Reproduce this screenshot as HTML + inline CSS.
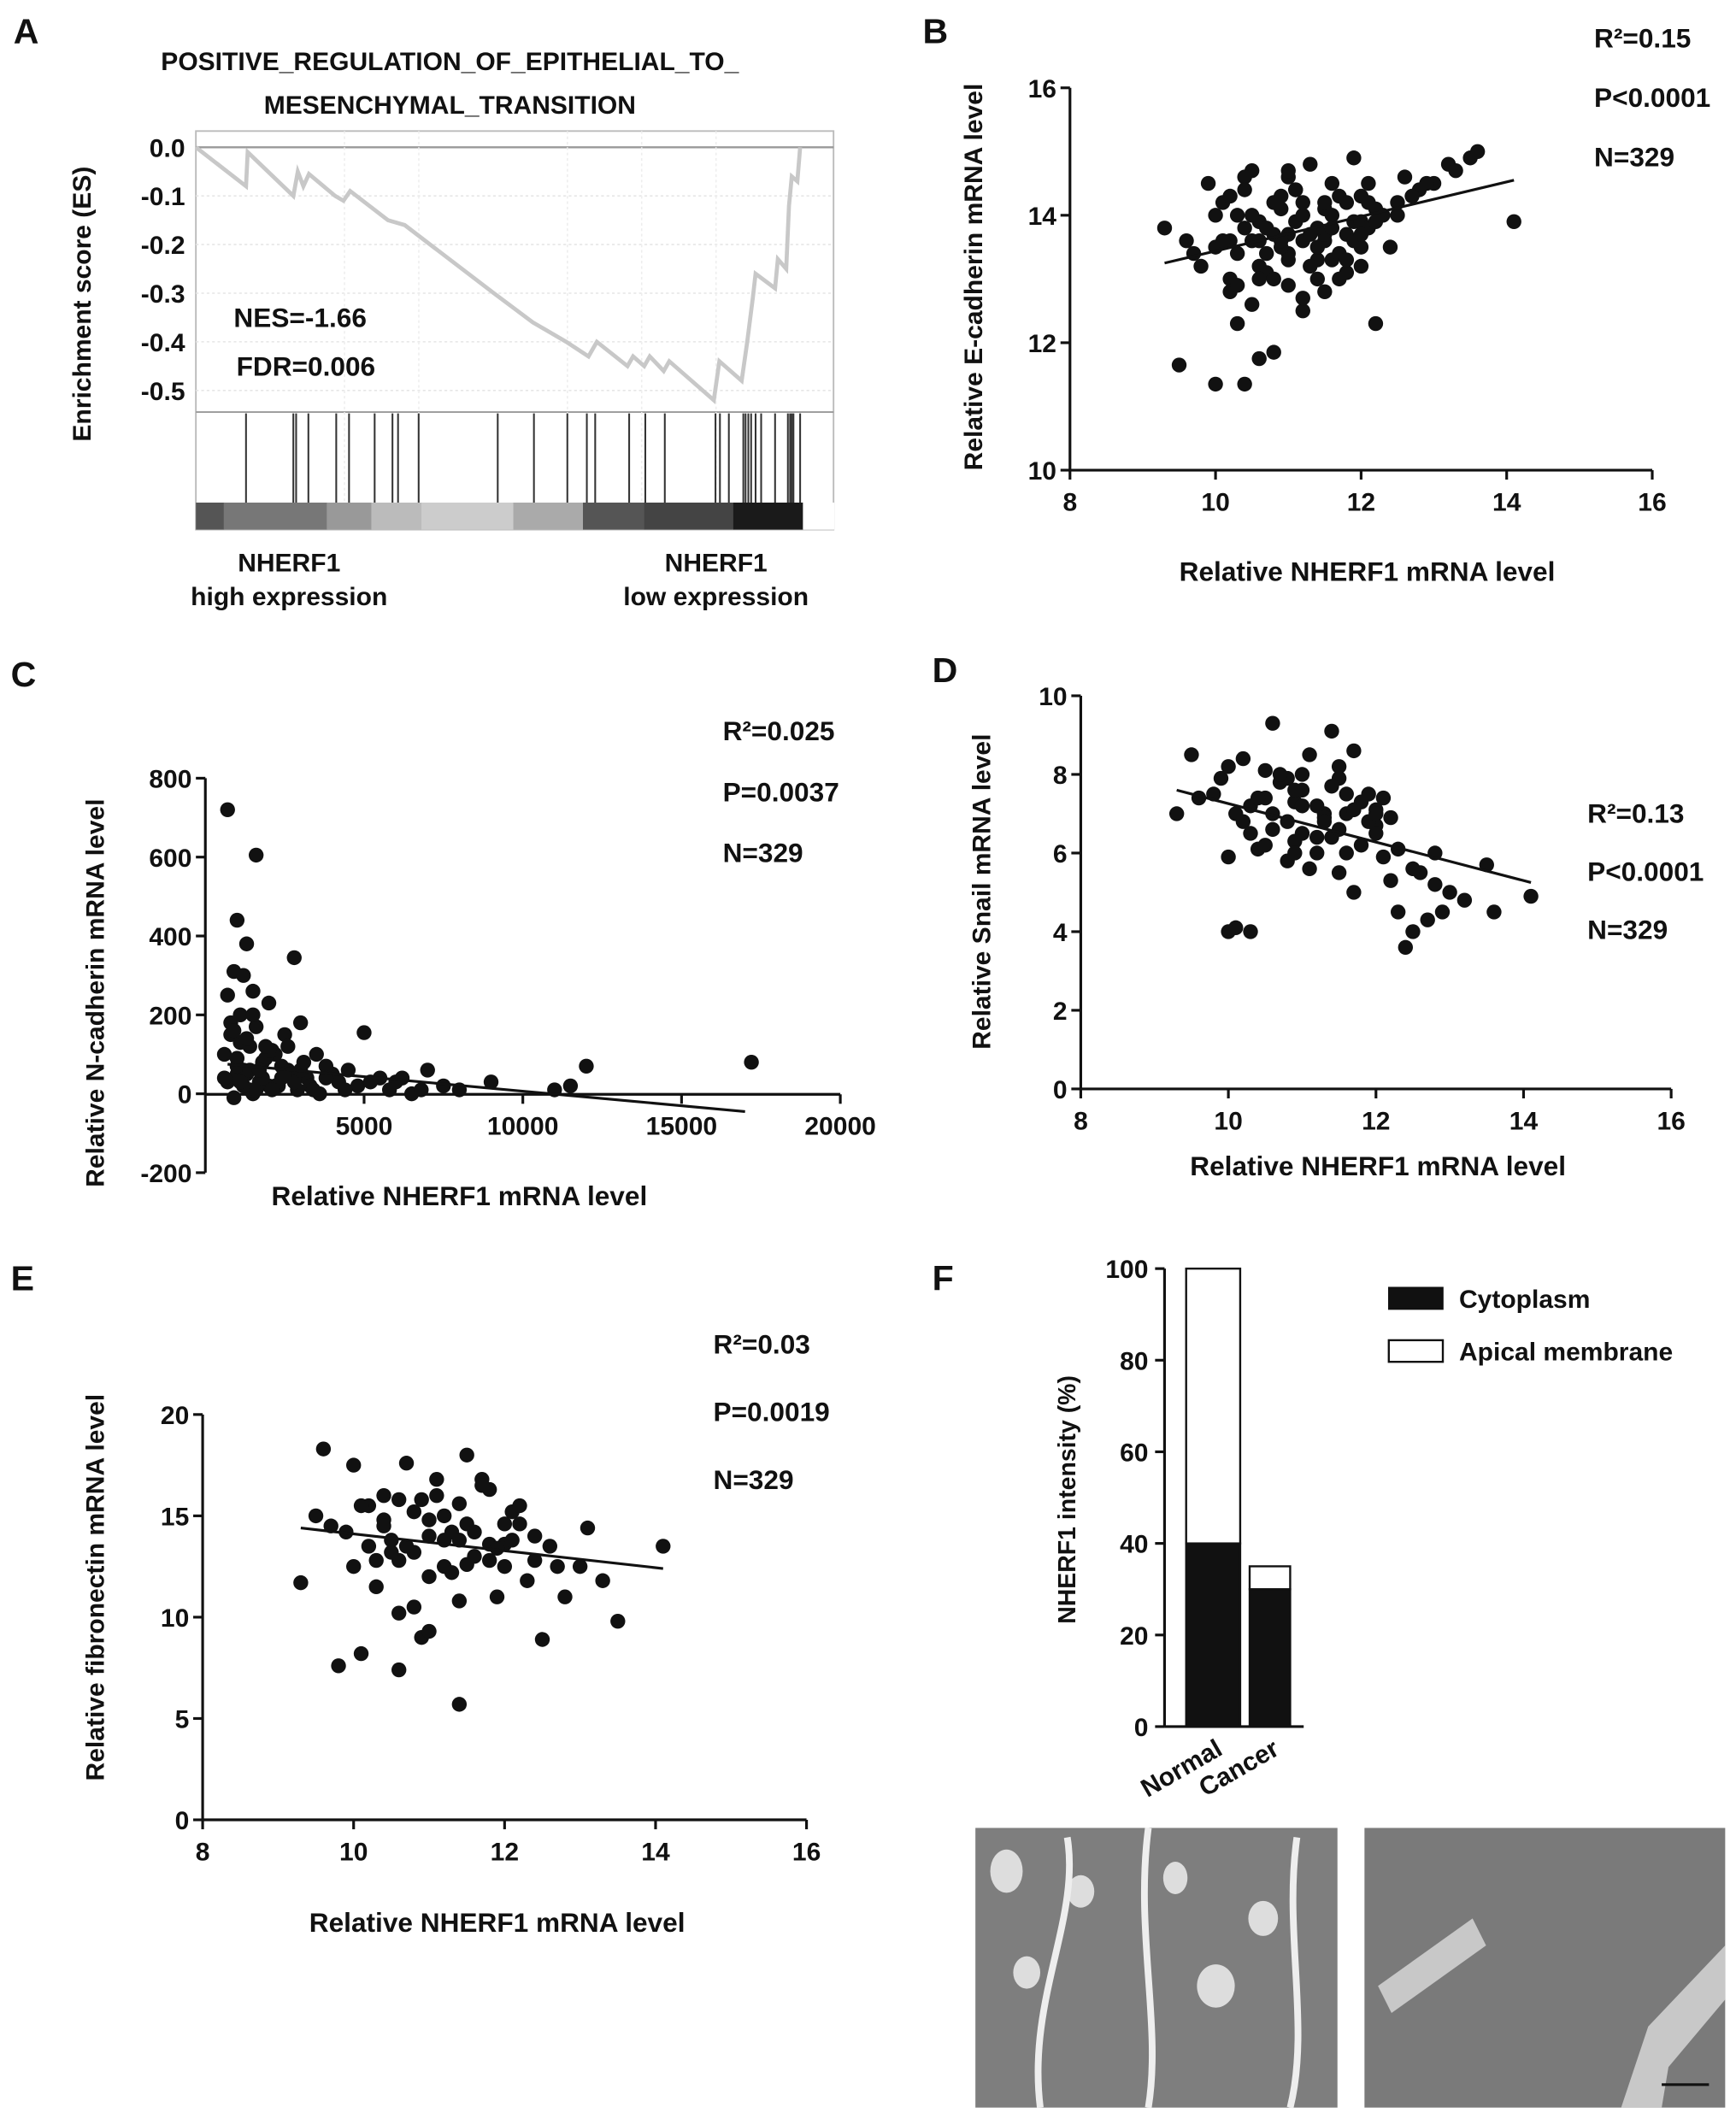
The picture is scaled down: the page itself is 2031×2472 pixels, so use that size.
<!DOCTYPE html>
<html><head><meta charset="utf-8">
<style>
html,body{margin:0;padding:0;background:#fff;}
svg{display:block;}
text{font-family:"Liberation Sans",Arial,sans-serif;font-weight:bold;fill:#111;}
</style></head>
<body>
<svg id="fig" xmlns="http://www.w3.org/2000/svg" width="2031" height="2472" viewBox="0 0 1285 1564">
<rect x="0" y="0" width="1285" height="1564" fill="#fff"/>
<g id="panelA"></g>
<g id="panelB"></g>
<g id="panelC"></g>
<g id="panelD"></g>
<g id="panelE"></g>
<g id="panelF"></g>
<g id="histo">
  <rect x="722" y="1353" width="268" height="207" fill="#7e7e7e"/>
  <ellipse cx="745" cy="1385" rx="12" ry="16" fill="#ddd"/>
  <ellipse cx="800" cy="1400" rx="10" ry="12" fill="#ddd"/>
  <ellipse cx="870" cy="1390" rx="9" ry="12" fill="#ddd"/>
  <ellipse cx="935" cy="1420" rx="11" ry="13" fill="#ddd"/>
  <ellipse cx="760" cy="1460" rx="10" ry="12" fill="#ddd"/>
  <ellipse cx="900" cy="1470" rx="14" ry="16" fill="#ddd"/>
  <path d="M790 1360 C800 1420 760 1480 770 1560" stroke="#eee" stroke-width="5" fill="none"/>
  <path d="M850 1353 C840 1430 860 1500 850 1560" stroke="#eee" stroke-width="5" fill="none"/>
  <path d="M960 1360 C950 1430 970 1500 955 1560" stroke="#eee" stroke-width="5" fill="none"/>
  <rect x="1010" y="1353" width="267" height="207" fill="#7a7a7a"/>
  <path d="M1020 1470 L1090 1420 L1100 1440 L1030 1490 Z" fill="#c8c8c8"/>
  <path d="M1200 1560 L1220 1500 L1277 1440 L1277 1480 L1235 1530 L1230 1560 Z" fill="#c8c8c8"/>
  <line x1="1230" y1="1543" x2="1265" y2="1543" stroke="#111" stroke-width="2"/>
</g>
</svg>
<script>
// ---------- Panel A data (rank in 0..1145 units across the plot width) ----------
const gseaRank = [0,90,93,175,183,193,203,250,265,277,345,375,535,605,665,705,720,775,785,805,815,840,850,930,940,980,990,1000,1005,1040,1045,1060,1065,1070,1080,1085];
const gseaES   = [0,-0.08,-0.01,-0.10,-0.05,-0.08,-0.055,-0.10,-0.11,-0.09,-0.15,-0.16,-0.30,-0.36,-0.40,-0.43,-0.40,-0.45,-0.43,-0.45,-0.43,-0.46,-0.44,-0.52,-0.44,-0.48,-0.40,-0.31,-0.26,-0.29,-0.23,-0.25,-0.12,-0.06,-0.07,0.0];
const gseaHits = [90,175,180,202,252,275,321,353,363,400,542,607,667,702,717,778,807,842,933,941,957,983,987,992,997,1005,1015,1040,1063,1067,1070,1073,1085];
const gseaTicks = [0.0,-0.1,-0.2,-0.3,-0.4,-0.5];
const gseaTickLabels = ["0.0","-0.1","-0.2","-0.3","-0.4","-0.5"];
const gseaBarShades = ["#555","#777","#999","#bbb","#ccc","#aaa","#555","#444","#1a1a1a","#fff"];
const gseaBarEdges = [0,50,235,315,405,570,695,805,965,1090,1145];

// ---------- Panel B data ----------
const bX = [9.5,9.6,10.0,10.3,10.4,10.6,10.2,10.8,11.0,11.2,11.4,11.6,11.8,12.0,12.2,12.5,12.8,13.0,13.5,13.6,14.1,9.3,9.8,10.1,10.5,10.7,10.9,11.1,11.3,11.5,11.7,11.9,12.1,12.3,12.6,10.0,10.4,10.8,11.2,11.6,12.0,9.9,10.3,10.7,11.1,11.5,11.9,12.4,10.2,10.6,11.0,11.4,11.8,12.7,13.2,10.5,11.3,10.9,11.7,12.2,10.6,11.0,11.4,10.2,10.8,11.6,12.0,11.2,
  10.1,10.3,10.5,10.7,10.9,11.1,11.3,11.5,11.7,11.9,12.1,10.2,10.4,10.6,10.8,11.0,11.2,11.4,11.6,11.8,12.0,12.2,10.0,10.5,11.0,11.5,12.0,12.5,9.7,10.3,10.9,11.5,12.1,12.9,13.3,10.6,11.2,11.8,10.4,11.0];
const bY = [11.65,13.6,11.35,12.3,11.35,11.75,13.0,11.85,12.9,12.5,13.0,13.3,13.7,13.5,12.3,14.0,14.4,14.5,14.9,15.0,13.9,13.8,13.2,14.2,14.7,13.4,14.1,13.9,14.8,13.6,14.3,13.9,14.5,14.0,14.6,13.5,13.8,14.2,13.6,14.0,13.2,14.5,14.0,13.1,14.4,13.7,14.9,13.5,12.8,13.9,14.6,13.3,14.2,14.3,14.8,12.6,13.2,14.3,13.0,14.1,13.6,13.4,13.8,13.6,13.7,13.8,13.9,14.0,
  13.6,13.4,14.0,13.8,13.5,14.4,13.7,14.1,13.4,13.6,13.8,14.3,14.6,13.2,13.0,13.7,14.2,13.5,14.5,13.1,14.3,13.9,14.0,13.6,13.3,14.2,13.7,14.2,13.4,12.9,13.6,12.8,14.2,14.5,14.7,13.0,12.7,13.3,14.4,14.7];
const bTrend = [9.3,13.25,14.1,14.55];
const bXTicks = [8,10,12,14,16];
const bYTicks = [10,12,14,16];
const bStats = ["R²=0.15","P<0.0001","N=329"];

// ---------- Panel C data (x in thousands) ----------
const cX = [0.7,1.0,1.6,1.3,0.9,1.2,2.8,1.1,1.5,2.0,2.5,3.0,3.5,4.0,4.5,5.0,5.5,6.0,7.0,7.5,9.0,11.0,11.5,12.0,17.2,0.8,1.4,1.8,2.2,2.6,3.2,3.8,4.2,0.6,1.0,1.7,2.3,2.9,3.6,4.8,6.5,8.0,1.2,2.0,0.9,1.5,1.3,1.9,2.4,0.7,1.1,1.6,2.1,2.7,3.3,1.0,1.4,
  0.6,0.8,1.0,1.2,1.4,1.6,1.8,2.0,2.2,2.4,2.6,2.8,3.0,3.4,3.8,4.4,5.2,5.8,6.2,6.8,0.7,0.9,1.1,1.3,1.5,1.7,1.9,2.1,2.5,3.1];
const cY = [720,440,605,380,310,300,345,200,260,230,150,180,100,50,60,155,40,30,60,20,30,10,20,70,80,150,120,80,100,60,40,70,30,100,50,30,20,10,0,20,0,10,60,20,-10,0,50,90,40,30,130,170,110,50,20,70,10,
  40,180,90,20,60,10,40,110,20,70,120,30,60,10,40,10,30,10,40,10,250,160,30,140,200,60,120,10,50,80];
const cTrend = [0.7,75,17.0,-45];
const cXTicks = [5000,10000,15000,20000];
const cYTicks = [-200,0,200,400,600,800];
const cStats = ["R²=0.025","P=0.0037","N=329"];

// ---------- Panel D data ----------
const dX = [9.5,9.3,10.1,10.3,10.5,10.6,10.0,10.9,11.2,11.4,11.7,12.0,12.3,12.4,12.5,12.7,12.9,13.0,13.5,13.6,14.1,9.8,10.2,10.7,11.0,11.1,11.3,11.5,11.8,12.1,12.2,10.4,10.8,11.6,11.9,12.6,9.9,10.0,10.6,11.4,12.8,13.2,10.3,11.0,11.7,10.8,11.2,11.5,10.5,11.0,11.3,12.0,10.9,11.6,
  10.2,10.4,10.6,10.8,11.0,11.2,11.4,11.6,11.8,12.0,12.2,10.1,10.5,10.9,11.3,11.7,12.1,12.5,9.6,10.0,10.7,11.1,11.5,11.9,12.3,10.3,10.9,11.5,12.0,12.8];
const dY = [8.5,7.0,4.1,4.0,8.1,9.3,4.0,7.3,6.0,9.1,8.6,6.7,4.5,3.6,4.0,4.3,4.5,5.0,5.7,4.5,4.9,7.5,8.4,7.8,6.5,8.5,7.0,7.9,6.2,7.4,5.3,6.1,5.8,7.5,6.8,5.5,7.9,5.9,7.0,6.4,6.0,4.8,7.2,8.0,5.0,6.8,7.2,6.6,7.4,7.6,6.9,7.1,6.3,7.0,
  6.8,7.4,6.6,7.9,7.2,6.4,7.7,6.0,7.3,6.5,6.9,7.0,6.2,7.6,6.8,7.1,5.9,5.6,7.4,8.2,8.0,5.6,5.5,7.5,6.1,6.5,6.0,8.2,7.0,5.2];
const dTrend = [9.3,7.6,14.1,5.25];
const dXTicks = [8,10,12,14,16];
const dYTicks = [0,2,4,6,8,10];
const dStats = ["R²=0.13","P<0.0001","N=329"];

// ---------- Panel E data ----------
const eX = [9.3,9.6,9.8,10.1,10.4,10.6,10.0,10.9,11.4,11.5,11.7,12.0,12.5,12.8,13.0,13.3,13.5,14.1,9.7,10.2,10.7,11.0,11.2,11.8,12.2,10.3,10.5,11.1,11.6,12.4,9.5,10.8,11.3,11.9,12.6,10.0,10.6,11.0,11.2,11.5,10.8,11.4,10.4,11.8,11.0,12.1,
  10.2,10.4,10.6,10.8,11.0,11.2,11.4,11.6,11.8,12.0,12.2,12.4,10.1,10.5,10.9,11.3,11.7,12.1,9.9,10.3,10.7,11.1,11.5,11.9,12.3,12.7,13.1,10.6,11.4,12.0];
const eY = [11.7,18.3,7.6,8.2,16.0,7.4,17.5,9.0,5.7,18.0,16.8,12.5,8.9,11.0,12.5,11.8,9.8,13.5,14.5,15.5,17.6,12.0,15.0,16.3,14.6,12.8,13.8,16.8,13.0,14.0,15.0,10.5,14.2,11.0,13.5,12.5,15.8,9.3,13.8,14.6,13.2,15.6,14.8,13.6,14.0,15.2,
  13.5,14.5,12.8,15.2,14.8,12.5,13.8,14.2,12.8,13.6,15.5,12.8,15.5,13.2,15.8,12.2,16.5,13.8,14.2,11.5,13.5,16.0,12.6,13.4,11.8,12.5,14.4,10.2,10.8,14.6];
const eTrend = [9.3,14.4,14.1,12.4];
const eXTicks = [8,10,12,14,16];
const eYTicks = [0,5,10,15,20];
const eStats = ["R²=0.03","P=0.0019","N=329"];

// ---------- Panel F data ----------
const fCategories = ["Normal","Cancer"];
const fCytoplasm = [40,30];
const fApical = [60,5];
const fYTicks = [0,20,40,60,80,100];

const NS = "http://www.w3.org/2000/svg";
function el(parent, tag, attrs, txt){
  const e = document.createElementNS(NS, tag);
  for (const k in attrs) e.setAttribute(k, attrs[k]);
  if (txt !== undefined) e.textContent = txt;
  parent.appendChild(e);
  return e;
}
function lin(d0,d1,r0,r1){ return v => r0 + (v-d0)*(r1-r0)/(d1-d0); }

// ===== Panel A =====
(function(){
  const g = document.getElementById('panelA');
  const L=145,R=617,T=97,B=392;
  const y = lin(0,-0.5,109,289);
  const x = lin(0,1145,L,R);
  let t;
  t = el(g,'text',{x:10,y:32,'font-size':26});t.textContent='A';
  
  t = el(g,'text',{x:333,y:52,'font-size':19,'text-anchor':'middle'},'POSITIVE_REGULATION_OF_EPITHELIAL_TO_');
  
  t = el(g,'text',{x:333,y:84,'font-size':19,'text-anchor':'middle'},'MESENCHYMAL_TRANSITION');
  
  const box = el(g,'rect',{x:L,y:T,width:R-L,height:B-T,fill:'none',stroke:'#bbb','stroke-width':1.2});
  
  const sep = el(g,'line',{x1:L,x2:R,y1:305,y2:305,stroke:'#999','stroke-width':1.2});
  
  gseaTicks.forEach((v,i)=>{
    const gl = el(g,'line',{x1:L,x2:R,y1:y(v),y2:y(v),stroke:i===0?'#999':'#e6e6e6','stroke-width':i===0?1.5:1,'stroke-dasharray':i===0?'':'2,2'});
    
    const tl = el(g,'text',{x:L-8,y:y(v)+7,'font-size':19,'text-anchor':'end'},gseaTickLabels[i]);
    
  });
  [255,310,420,475,530].forEach(xx=>{
    const vl=el(g,'line',{x1:xx,x2:xx,y1:T,y2:392,stroke:'#eee','stroke-dasharray':'2,2'});
    
  });
  const pts = gseaRank.map((r,i)=>x(r)+','+y(gseaES[i])).join(' ');
  const pl = el(g,'polyline',{points:pts,fill:'none',stroke:'#c8c8c8','stroke-width':3});
  
  gseaHits.forEach(h=>{
    const hl = el(g,'line',{x1:x(h),x2:x(h),y1:306,y2:372,stroke:'#333','stroke-width':1.3});
    
  });
  gseaBarShades.forEach((c,i)=>{
    const r = el(g,'rect',{x:x(gseaBarEdges[i]),y:372,width:x(gseaBarEdges[i+1])-x(gseaBarEdges[i])+0.5,height:20,fill:c});
    
  });
  t=el(g,'text',{x:0,y:0,'font-size':19,'text-anchor':'middle',transform:'translate(67,225) rotate(-90)'},'Enrichment score (ES)');
  
  t=el(g,'text',{x:173,y:242,'font-size':20},'NES=-1.66');
  t=el(g,'text',{x:175,y:278,'font-size':20},'FDR=0.006');
  [['NHERF1',214,423],['high expression',214,448],['NHERF1',530,423],['low expression',530,448]].forEach(a=>{
    const tt=el(g,'text',{x:a[1],y:a[2],'font-size':19,'text-anchor':'middle'},a[0]);
    
  });
})();

// ===== generic scatter =====
function scatter(id, o){
  const g = document.getElementById(id);
  const x = lin(o.xd[0],o.xd[1],o.xr[0],o.xr[1]);
  const y = lin(o.yd[0],o.yd[1],o.yr[0],o.yr[1]);
  let t = el(g,'text',{x:o.lab[0],y:o.lab[1],'font-size':26},o.letter);
  
  const ax = el(g,'path',{d:`M${o.xr[0]} ${y(o.yTicks[o.yTicks.length-1])} L${o.xr[0]} ${y(o.yTicks[0])}`,fill:'none',stroke:'#111','stroke-width':2});
  
  const xl = el(g,'line',{x1:o.xr[0],x2:x(o.xTicks[o.xTicks.length-1]),y1:o.xAxisY,y2:o.xAxisY,stroke:'#111','stroke-width':2});
  
  o.yTicks.forEach(v=>{
    const tk=el(g,'line',{x1:o.xr[0]-7,x2:o.xr[0],y1:y(v),y2:y(v),stroke:'#111','stroke-width':2});
    
    const tl=el(g,'text',{x:o.xr[0]-10,y:y(v)+7,'font-size':19,'text-anchor':'end'},String(v));
    
  });
  o.xTicks.forEach(v=>{
    const tk=el(g,'line',{x1:x(v),x2:x(v),y1:o.xAxisY,y2:o.xAxisY+7,stroke:'#111','stroke-width':2});
    
    const tl=el(g,'text',{x:x(v),y:o.xAxisY+30,'font-size':19,'text-anchor':'middle'},String(v));
    
  });
  const n=Math.min(o.px.length,o.py.length);
  for(let i=0;i<n;i++){
    const c=el(g,'circle',{cx:x(o.px[i]*o.xs),cy:y(o.py[i]),r:5.5,fill:'#111'});
    
  }
  const tr=el(g,'line',{x1:x(o.trend[0]*o.xs),y1:y(o.trend[1]),x2:x(o.trend[2]*o.xs),y2:y(o.trend[3]),stroke:'#111','stroke-width':2});
  
  o.stats.forEach((s,i)=>{
    const st=el(g,'text',{x:o.st[0],y:o.st[1]+i*o.st[2],'font-size':20},s);
    
  });
  t=el(g,'text',{x:0,y:0,'font-size':19,'text-anchor':'middle',transform:`translate(${o.ylab[0]},${o.ylab[1]}) rotate(-90)`},o.ytitle);
  
  t=el(g,'text',{x:o.xlab[0],y:o.xlab[1],'font-size':20,'text-anchor':'middle'},'Relative NHERF1 mRNA level');
  
}
scatter('panelB',{letter:'B',lab:[683,32],xd:[8,16],xr:[792,1223],yd:[10,16],yr:[348,65],xAxisY:348,xTicks:bXTicks,yTicks:bYTicks,px:bX,py:bY,xs:1,trend:bTrend,stats:bStats,st:[1180,35,44],ytitle:'Relative E-cadherin mRNA level',ylab:[727,205],xlab:[1012,430]});
scatter('panelC',{letter:'C',lab:[8,508],xd:[0,20000],xr:[152,622],yd:[-200,800],yr:[868,576],xAxisY:810,xTicks:cXTicks,yTicks:cYTicks,px:cX,py:cY,xs:1000,trend:cTrend,stats:cStats,st:[535,548,45],ytitle:'Relative N-cadherin mRNA level',ylab:[77,735],xlab:[340,892]});
scatter('panelD',{letter:'D',lab:[690,505],xd:[8,16],xr:[800,1237],yd:[0,10],yr:[806,515],xAxisY:806,xTicks:dXTicks,yTicks:dYTicks,px:dX,py:dY,xs:1,trend:dTrend,stats:dStats,st:[1175,609,43],ytitle:'Relative Snail mRNA level',ylab:[733,660],xlab:[1020,870]});
scatter('panelE',{letter:'E',lab:[8,955],xd:[8,16],xr:[150,597],yd:[0,20],yr:[1347,1047],xAxisY:1347,xTicks:eXTicks,yTicks:eYTicks,px:eX,py:eY,xs:1,trend:eTrend,stats:eStats,st:[528,1002,50],ytitle:'Relative fibronectin mRNA level',ylab:[77,1175],xlab:[368,1430]});

// ===== Panel F =====
(function(){
  const g=document.getElementById('panelF');
  const y=lin(0,100,1278,939);
  const X0=862;
  let t=el(g,'text',{x:690,y:955,'font-size':26},'F');
  
  const ax=el(g,'line',{x1:X0,x2:X0,y1:y(100),y2:y(0),stroke:'#111','stroke-width':2});
  
  const xa=el(g,'line',{x1:X0,x2:965,y1:y(0),y2:y(0),stroke:'#111','stroke-width':2});
  
  fYTicks.forEach(v=>{
    const tk=el(g,'line',{x1:X0-7,x2:X0,y1:y(v),y2:y(v),stroke:'#111','stroke-width':2});
    
    const tl=el(g,'text',{x:X0-12,y:y(v)+7,'font-size':19,'text-anchor':'end'},String(v));
    
  });
  const bx=[878,925], bw=[40,30];
  fCategories.forEach((c,i)=>{
    const r1=el(g,'rect',{x:bx[i],y:y(fCytoplasm[i]),width:bw[i],height:y(0)-y(fCytoplasm[i]),fill:'#111',stroke:'#111','stroke-width':1.5});
    
    const top=fCytoplasm[i]+fApical[i];
    const r2=el(g,'rect',{x:bx[i],y:y(top),width:bw[i],height:y(fCytoplasm[i])-y(top),fill:'#fff',stroke:'#111','stroke-width':1.5});
    
    const cx=bx[i]+bw[i]/2+8;
    const tl=el(g,'text',{x:0,y:0,'font-size':19,'text-anchor':'end',transform:`translate(${cx},${y(0)+20}) rotate(-30)`},c);
    
  });
  t=el(g,'text',{x:0,y:0,'font-size':18,'text-anchor':'middle',transform:'translate(796,1110) rotate(-90)'},'NHERF1 intensity (%)');
  
  const l1=el(g,'rect',{x:1028,y:953,width:40,height:16,fill:'#111',stroke:'#111'});
  
  t=el(g,'text',{x:1080,y:968,'font-size':19},'Cytoplasm');
  
  const l2=el(g,'rect',{x:1028,y:992,width:40,height:16,fill:'#fff',stroke:'#111','stroke-width':1.5});
  
  t=el(g,'text',{x:1080,y:1007,'font-size':19},'Apical membrane');
  
})();
</script>
</body></html>
